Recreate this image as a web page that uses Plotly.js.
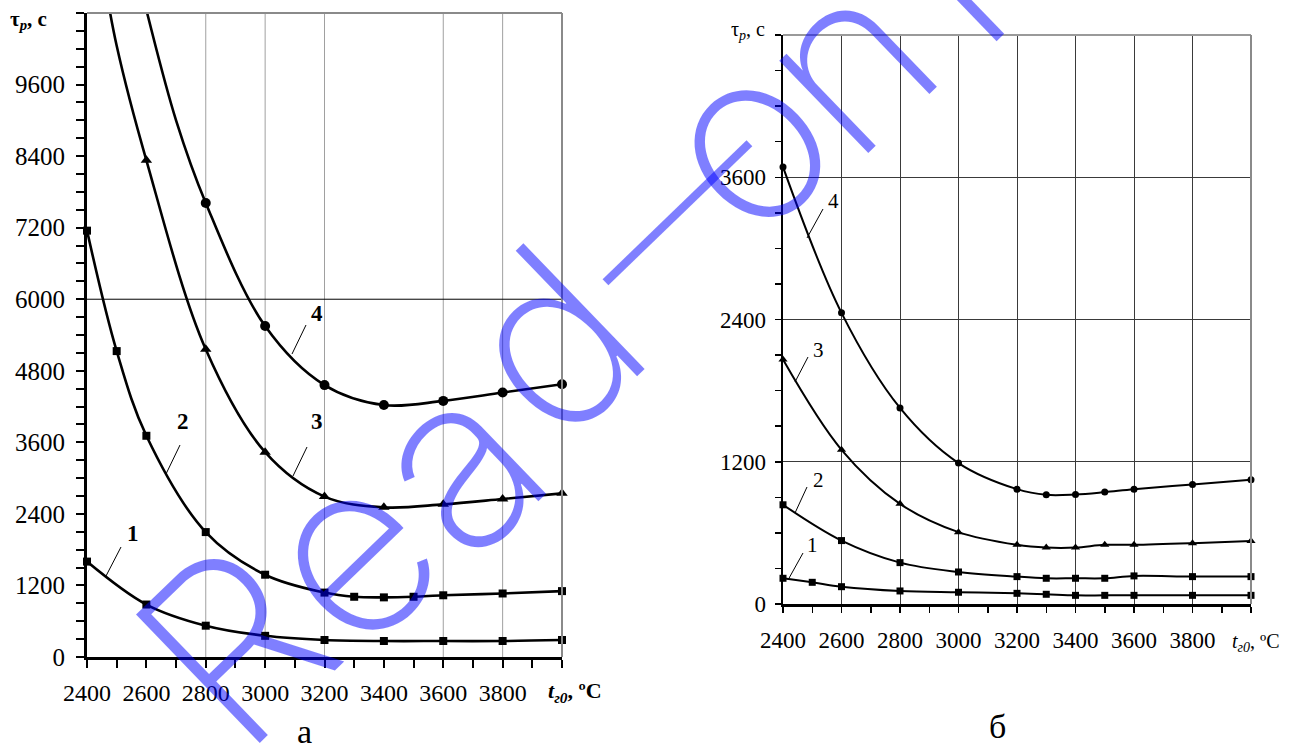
<!DOCTYPE html>
<html><head><meta charset="utf-8">
<script src="https://cdn.plot.ly/plotly-3.0.1.min.js"></script>
<style>html,body{margin:0;padding:0;background:#fff;overflow:hidden}</style>
</head><body><div id="chart" style="width:1295px;height:751px"></div>
<script>
// ---------- Chart (а) ----------
const a1X = [2400,2600,2800,3000,3200,3400,3600,3800,4000];
const a1Y = [1600,880,525,355,285,268,268,268,285];
const a2X = [2400,2500,2600,2800,3000,3200,3300,3400,3500,3600,3800,4000];
const a2Y = [7150,5130,3710,2095,1380,1080,1010,1000,1010,1035,1065,1105];
const a3X = [2600,2800,3000,3200,3400,3600,3800,4000];
const a3Y = [8330,5160,3435,2690,2510,2560,2650,2745];
const a3ExtX = [2400,2450,2500];          // curve continues above the axis top
const a3ExtY = [13200,11600,10250];
const a4X = [2800,3000,3200,3400,3600,3800,4000];
const a4Y = [7615,5550,4560,4225,4295,4435,4575];
const a4ExtX = [2500,2600,2700];
const a4ExtY = [12900,10850,9000];
const aXTicks = [2400,2600,2800,3000,3200,3400,3600,3800,4000];
const aXTickText = ['2400','2600','2800','3000','3200','3400','3600','3800',' '];
const aYTicks = [0,1200,2400,3600,4800,6000,7200,8400,9600,10800];
const aYTickText = ['0','1200','2400','3600','4800','6000','7200','8400','9600',' '];
const aVGrid = [2800,3000,3200,3600,3800];
const aHGrid = [6000];

// ---------- Chart (б) ----------
const b1X = [2400,2500,2600,2800,3000,3200,3300,3400,3500,3600,3800,4000];
const b1Y = [217,183,146,110,99,90,82,73,73,73,73,73];
const b2X = [2400,2600,2800,3000,3200,3300,3400,3500,3600,3800,4000];
const b2Y = [837,535,349,270,231,217,217,217,237,231,231];
const b3X = [2400,2600,2800,3000,3200,3300,3400,3500,3600,3800,4000];
const b3Y = [2062,1301,845,606,499,476,476,499,499,513,532];
const b4X = [2400,2600,2800,3000,3200,3300,3400,3500,3600,3800,4000];
const b4Y = [3687,2456,1654,1189,969,921,924,944,969,1008,1048];
const bXTicks = [2400,2600,2800,3000,3200,3400,3600,3800,4000];
const bXTickText = ['2400','2600','2800','3000','3200','3400','3600','3800',' '];
const bYTicks = [0,1200,2400,3600,4800];
const bYTickText = ['0','1200','2400','3600',' '];

// watermark letters (as seen on the picture)
const wmLetters = ['R','e','a','d','—','o','n','l'];

const W = 1295, H = 751;
const PX = v => v / W, PY = v => 1 - v / H;
const SERIF = 'Liberation Serif, Times New Roman, serif';

function lineTrace(x, y, xa, ya, w) {
  return {x, y, xaxis: xa, yaxis: ya, mode: 'lines', type: 'scatter',
    line: {color: '#000', width: w, shape: 'spline', smoothing: 1},
    hoverinfo: 'skip', showlegend: false};
}
function markTrace(x, y, xa, ya, sym, size) {
  return {x, y, xaxis: xa, yaxis: ya, mode: 'markers', type: 'scatter',
    marker: {color: '#000', symbol: sym, size: size, line: {width: 0}},
    cliponaxis: false, showlegend: false};
}

const data = [
  lineTrace(a1X, a1Y, 'x', 'y', 2.6),
  lineTrace(a2X, a2Y, 'x', 'y', 2.6),
  lineTrace(a3ExtX.concat(a3X), a3ExtY.concat(a3Y), 'x', 'y', 2.6),
  lineTrace(a4ExtX.concat(a4X), a4ExtY.concat(a4Y), 'x', 'y', 2.6),
  markTrace(a1X, a1Y, 'x', 'y', 'square', 8),
  markTrace(a2X, a2Y, 'x', 'y', 'square', 8),
  markTrace(a3X, a3Y, 'x', 'y', 'triangle-up', 10),
  markTrace(a4X, a4Y, 'x', 'y', 'circle', 10),
  lineTrace(b1X, b1Y, 'x2', 'y2', 2),
  lineTrace(b2X, b2Y, 'x2', 'y2', 2),
  lineTrace(b3X, b3Y, 'x2', 'y2', 2),
  lineTrace(b4X, b4Y, 'x2', 'y2', 2),
  markTrace(b1X, b1Y, 'x2', 'y2', 'square', 7),
  markTrace(b2X, b2Y, 'x2', 'y2', 'square', 7),
  markTrace(b3X, b3Y, 'x2', 'y2', 'triangle-up', 8),
  markTrace(b4X, b4Y, 'x2', 'y2', 'circle', 7)
];

const shapes = [];
aVGrid.forEach(v => shapes.push({type:'line', xref:'x', yref:'y domain', x0:v, x1:v, y0:0, y1:1,
  line:{color:'#a0a0a0', width:1}, layer:'below'}));
aHGrid.forEach(v => shapes.push({type:'line', xref:'x domain', yref:'y', x0:0, x1:1, y0:v, y1:v,
  line:{color:'#000', width:1}, layer:'below'}));
// frame (top/right) of both plots
shapes.push({type:'line', xref:'x domain', yref:'y domain', x0:0, x1:1, y0:1, y1:1, line:{color:'#8a8a8a', width:2}});
shapes.push({type:'line', xref:'x domain', yref:'y domain', x0:1, x1:1, y0:0, y1:1, line:{color:'#8a8a8a', width:2}});
shapes.push({type:'line', xref:'x2 domain', yref:'y2 domain', x0:0, x1:1, y0:1, y1:1, line:{color:'#9a9a9a', width:2}});
shapes.push({type:'line', xref:'x2 domain', yref:'y2 domain', x0:1, x1:1, y0:0, y1:1, line:{color:'#8a8a8a', width:2}});

// leader lines for curve labels (pixel positions)
const leaders = [
  [306,325,292,354],[307,447,293,476],[180,445,166,474],[121,547,106,576],
  [823,209,807,238],[808,357,795,382],[807,487,795,513],[803,553,788,580]
];
leaders.forEach(l => shapes.push({type:'line', xref:'paper', yref:'paper',
  x0:PX(l[0]), y0:PY(l[1]), x1:PX(l[2]), y1:PY(l[3]), line:{color:'#000', width:1}}));

const ann = [];
function txt(text, x, y, size, extra) {
  ann.push(Object.assign({text, xref:'paper', yref:'paper', x:PX(x), y:PY(y), showarrow:false,
    xanchor:'center', yanchor:'middle', font:{family:SERIF, size:size, color:'#000'}}, extra || {}));
}
// curve labels (а) bold, (б) regular
txt('<b>4</b>', 317, 313, 23);
txt('<b>3</b>', 317, 422, 23);
txt('<b>2</b>', 183, 422, 23);
txt('<b>1</b>', 133, 533, 23);
txt('4', 833, 201, 21);
txt('3', 818, 350, 21);
txt('2', 818, 480, 21);
txt('1', 812, 545, 21);
// axis titles
txt('<b>τ<sub><i>р</i></sub>, с</b>', 29, 20, 21);
txt('<b><i>t</i><sub><i>г0</i></sub>, ºС</b>', 575, 692, 22);
txt('τ<sub><i>р</i></sub>, с', 748, 31, 20);
txt('<i>t</i><sub><i>г0</i></sub>, ºС', 1256, 642, 20);
// panel captions
txt('а', 304, 731, 34);
txt('б', 998, 726, 34);

// watermark (semi-transparent blue, rotated)
const wmPos = [[234,644],[345,550],[453,460],[548,340],[670,205],[742,138],[843,58],[940,-25]];
const wmSize = [245,245,245,240,200,240,235,240];
wmLetters.forEach((c, i) => ann.push({text:c, xref:'paper', yref:'paper',
  x:PX(wmPos[i][0]), y:PY(wmPos[i][1]), showarrow:false, xanchor:'center', yanchor:'middle',
  textangle:-44, font:{family:'Inter, DejaVu Sans, sans-serif', size:wmSize[i], weight:250, color:'rgba(0,0,255,0.5)'}}));

const axBase = {showline:true, linecolor:'#000', zeroline:false, showgrid:false,
  ticks:'outside', tickcolor:'#000', fixedrange:true};

const layout = {
  width: W, height: H, autosize:false, font:{family:SERIF, color:'#000'},
  margin:{l:0, r:0, t:0, b:0}, paper_bgcolor:'#fff', plot_bgcolor:'rgba(0,0,0,0)',
  showlegend:false,
  xaxis: Object.assign({}, axBase, {domain:[PX(87), PX(562)], range:[2400,4000], anchor:'y',
    linewidth:3, tickwidth:2, ticklen:8, tickmode:'array', tickvals:aXTicks, ticktext:aXTickText,
    ticklabelstandoff:4, tickfont:{family:SERIF, size:24, color:'#000'},
    minor:{dtick:100, tick0:2400, ticks:'outside', ticklen:8, tickwidth:2, tickcolor:'#000', showgrid:false}}),
  yaxis: Object.assign({}, axBase, {domain:[PY(657), PY(13)], range:[0,10800], anchor:'x',
    linewidth:3, tickwidth:2, ticklen:8, tickmode:'array', tickvals:aYTicks, ticktext:aYTickText,
    ticklabelstandoff:6, tickfont:{family:SERIF, size:25, color:'#000'},
    minor:{dtick:300, tick0:0, ticks:'outside', ticklen:8, tickwidth:2, tickcolor:'#000', showgrid:false}}),
  xaxis2: Object.assign({}, axBase, {domain:[PX(783), PX(1251)], range:[2400,4000], anchor:'y2',
    linewidth:2.5, tickwidth:1.5, ticklen:6, tickmode:'array', tickvals:bXTicks, ticktext:bXTickText,
    showgrid:true, gridcolor:'#3a3a3a', gridwidth:1,
    ticklabelstandoff:8, tickfont:{family:SERIF, size:23, color:'#000'},
    minor:{dtick:100, tick0:2400, ticks:'outside', ticklen:6, tickwidth:1.5, tickcolor:'#000', showgrid:false}}),
  yaxis2: Object.assign({}, axBase, {domain:[PY(604), PY(35)], range:[0,4800], anchor:'x2',
    linewidth:2.5, tickwidth:1.5, ticklen:6, tickmode:'array', tickvals:bYTicks, ticktext:bYTickText,
    showgrid:true, gridcolor:'#3a3a3a', gridwidth:1,
    ticklabelstandoff:4, tickfont:{family:SERIF, size:23, color:'#000'},
    minor:{dtick:300, tick0:0, ticks:'outside', ticklen:6, tickwidth:1.5, tickcolor:'#000', showgrid:false}}),
  shapes, annotations: ann
};

Plotly.newPlot('chart', data, layout, {staticPlot:true, displayModeBar:false});
</script>
</body></html>
